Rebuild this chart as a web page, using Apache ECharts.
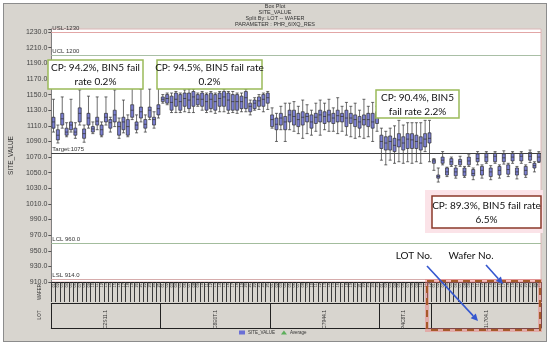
<!DOCTYPE html>
<html><head><meta charset="utf-8">
<script src="https://cdn.jsdelivr.net/npm/echarts@6.0.0/dist/echarts.min.js"></script>
<style>
html,body{margin:0;padding:0;background:#fff;}
#frame{position:absolute;left:3px;top:3px;width:542px;height:337px;background:#d8d5cf;border:1px solid #8c8c8c;}
#chart{position:absolute;left:0;top:0;width:550px;height:348px;}
</style></head><body>
<div id="frame"></div><div id="chart"></div>
<script>
// ---- data ----
const lotNames = ['C2S11.1', 'C8E0T.1', 'C7944.1', 'P4C8T.1', '31L704.1'];
const waferNos = ['01','02','03','04','05','06','07','08','09','10','11','12','13','14','15','16','17','18','19','20','21','22','23','24','25'];
const lotWaferCounts = [25, 25, 25, 12, 25];
const yTicks = [910, 930, 950, 970, 990, 1010, 1030, 1050, 1070, 1090, 1110, 1130, 1150, 1170, 1190, 1210, 1230];
// [min, Q1, median, Q3, max]
const lot1 = [
[1102,1107,1115,1121,1144],[1088,1092,1098,1105,1111],[1107,1111,1119,1126,1147],[1096,1098,1102,1107,1114],
[1102,1105,1111,1115,1144],[1094,1098,1102,1107,1114],[1111,1115,1126,1133,1156],[1089,1094,1100,1106,1111],
[1107,1111,1120,1126,1148],[1100,1102,1106,1109,1115],[1105,1111,1116,1121,1147],[1096,1098,1105,1111,1115],
[1111,1115,1121,1126,1147],[1102,1107,1114,1118,1121],[1109,1115,1124,1130,1156],[1094,1098,1109,1115,1120],
[1101,1105,1115,1121,1143],[1096,1098,1109,1118,1124],[1118,1121,1130,1137,1158],[1101,1105,1111,1115,1124],
[1115,1120,1128,1134,1157],[1102,1107,1112,1118,1124],[1118,1121,1130,1134,1157],[1107,1111,1118,1121,1128],
[1120,1124,1132,1137,1160]];
const lot2 = [
[1139,1141,1144,1147,1150],[1137,1139,1145,1150,1152],[1127,1130,1140,1148,1152],[1127,1135,1144,1152,1154],
[1127,1130,1141,1150,1152],[1128,1135,1145,1152,1156],[1127,1132,1143,1152,1157],[1127,1135,1147,1154,1157],
[1135,1137,1144,1150,1152],[1130,1135,1144,1152,1154],[1127,1130,1141,1150,1152],[1128,1132,1144,1152,1154],
[1126,1130,1141,1150,1152],[1128,1135,1145,1152,1154],[1128,1135,1147,1154,1157],[1126,1130,1143,1152,1154],
[1127,1130,1141,1150,1154],[1126,1130,1141,1150,1152],[1128,1132,1141,1148,1152],[1128,1132,1146,1154,1157],
[1124,1128,1135,1139,1143],[1130,1132,1139,1143,1146],[1131,1135,1142,1147,1150],[1128,1135,1144,1150,1152],
[1131,1139,1146,1152,1154]];
const lot3 = [
[1107,1109,1118,1124,1133],[1090,1105,1112,1120,1126],[1105,1111,1120,1126,1135],[1090,1105,1115,1122,1139],
[1105,1115,1124,1130,1139],[1103,1111,1122,1130,1141],[1100,1109,1118,1126,1135],[1094,1111,1121,1128,1143],
[1100,1115,1122,1126,1137],[1098,1107,1115,1124,1130],[1103,1113,1121,1126,1139],[1098,1115,1124,1130,1143],
[1105,1113,1122,1128,1139],[1103,1115,1124,1130,1144],[1103,1113,1120,1126,1133],[1100,1115,1123,1130,1146],
[1103,1115,1122,1126,1135],[1098,1109,1120,1130,1140],[1096,1113,1120,1126,1135],[1094,1109,1118,1124,1139],
[1096,1107,1115,1122,1130],[1094,1111,1118,1124,1144],[1096,1109,1118,1126,1135],[1090,1107,1115,1126,1140],
[1103,1113,1122,1128,1135]];
const lot4 = [
[1066,1081,1090,1098,1107],[1060,1079,1088,1096,1103],[1066,1079,1090,1097,1107],[1062,1077,1085,1094,1110],
[1064,1083,1092,1100,1117],[1062,1079,1088,1096,1111],[1064,1081,1093,1100,1114],[1062,1081,1092,1100,1114],
[1064,1081,1090,1098,1114],[1062,1079,1088,1096,1114],[1077,1083,1093,1100,1117],[1064,1088,1094,1101,1117]];
const lot5 = [
[1053,1062,1065,1067,1068],[1038,1043,1045,1047,1056],[1060,1062,1066,1070,1077],[1045,1047,1051,1056,1057],
[1058,1060,1064,1068,1070],[1043,1046,1051,1056,1059],[1058,1060,1064,1067,1071],[1044,1046,1051,1056,1058],
[1058,1060,1065,1070,1073],[1041,1046,1049,1054,1056],[1060,1064,1068,1074,1077],[1043,1047,1053,1058,1060],
[1062,1064,1070,1075,1077],[1041,1045,1051,1056,1059],[1062,1064,1071,1075,1077],[1043,1047,1053,1058,1060],
[1061,1064,1069,1074,1078],[1045,1048,1054,1060,1062],[1062,1065,1070,1075,1077],[1042,1047,1051,1056,1058],
[1062,1065,1071,1075,1077],[1044,1047,1053,1058,1060],[1063,1066,1071,1076,1079],[1051,1056,1059,1062,1064],
[1063,1064,1070,1075,1077]];
const limitValues = [1230, 1200, 1075, 960, 914];
const limitLabels = ['USL-1230', 'UCL 1200', 'Target:1075', 'LCL 960.0', 'LSL 914.0'];
const limitColors = ['#e2a6a6', '#a9bfa6', '#404040', '#a3bd9d', '#d6acac'];

// ---- build ----
const categories = [];
const lotStart = [];
const lotCenter = [];
lotNames.forEach((ln, li) => {
  lotStart.push(categories.length);
  lotCenter.push(categories.length + Math.floor((lotWaferCounts[li] - 1) / 2));
  for (let i = 0; i < lotWaferCounts[li]; i++) categories.push(ln + '|' + waferNos[i]);
});
const boxData = [].concat(lot1, lot2, lot3, lot4, lot5);

const FONT = 'Lato, "Open Sans", sans-serif';
function arrow(x1, y1, x2, y2, color) {
  const a = Math.atan2(y2 - y1, x2 - x1), L = 7, W = 3.5;
  const bx = x2 - L * Math.cos(a), by = y2 - L * Math.sin(a);
  return [
    {type: 'line', shape: {x1, y1, x2: bx, y2: by}, style: {stroke: color, lineWidth: 1.6}, z: 100},
    {type: 'polygon', shape: {points: [[x2, y2], [bx + W * Math.sin(a), by - W * Math.cos(a)], [bx - W * Math.sin(a), by + W * Math.cos(a)]]}, style: {fill: color}, z: 100}
  ];
}
function note(x, y, w, h, txt, stroke) {
  return [
    {type: 'rect', shape: {x, y, width: w, height: h}, style: {fill: '#fff', stroke, lineWidth: 1.5}, z: 100},
    {type: 'text', x: x + w / 2, y: y + h / 2 + 0.5, z: 101, style: {text: txt, textAlign: 'center', textVerticalAlign: 'middle', font: '10px ' + FONT, fill: '#111', lineHeight: 14}}
  ];
}
const graphics = [].concat(
  note(48, 60, 95, 29, 'CP: 94.2%, BIN5 fail\nrate 0.2%', '#9bbb59'),
  note(157, 60, 105, 29, 'CP: 94.5%, BIN5 fail rate\n0.2%', '#9bbb59'),
  note(376, 90, 83, 28, 'CP: 90.4%, BIN5\nfail rate 2.2%', '#9bbb59'),
  [{type: 'rect', shape: {x: 425, y: 190, width: 118, height: 43}, style: {fill: '#fbe3e8'}, z: 99}],
  note(432, 196, 109, 32, 'CP: 89.3%, BIN5 fail rate\n6.5%', '#8b3a2a'),
  [
    {type: 'rect', shape: {x: 427, y: 281, width: 113, height: 49}, style: {fill: 'none', stroke: 'rgba(240,120,120,0.45)', lineWidth: 4}, z: 99},
    {type: 'rect', shape: {x: 427, y: 281, width: 113, height: 49}, style: {fill: 'none', stroke: '#a65a2a', lineWidth: 2, lineDash: [7, 5]}, z: 100},
    {type: 'text', x: 414, y: 256, z: 101, style: {text: 'LOT No.', textAlign: 'center', textVerticalAlign: 'middle', font: '10px ' + FONT, fill: '#111'}},
    {type: 'text', x: 471, y: 256, z: 101, style: {text: 'Wafer No.', textAlign: 'center', textVerticalAlign: 'middle', font: '10px ' + FONT, fill: '#111'}},
    {type: 'text', x: 40, y: 292, rotation: Math.PI / 2, z: 101, style: {text: 'WAFER', textAlign: 'center', textVerticalAlign: 'middle', font: '4.5px "Liberation Sans"', fill: '#333'}},
    {type: 'text', x: 40, y: 315, rotation: Math.PI / 2, z: 101, style: {text: 'LOT', textAlign: 'center', textVerticalAlign: 'middle', font: '4.5px "Liberation Sans"', fill: '#333'}}
  ],
  arrow(427, 266, 478, 321, '#3557cf'),
  arrow(486, 265, 503, 284, '#3557cf')
);

const chart = echarts.init(document.getElementById('chart'), null, {renderer: 'canvas'});
chart.setOption({
  backgroundColor: 'transparent',
  animation: false,
  title: {
    text: 'Box Plot\nSITE_VALUE\nSplit By: LOT -- WAFER\nPARAMETER : PHR_6IXQ_RES',
    left: 275, top: 3, textAlign: 'center', padding: 0,
    textStyle: {fontSize: 5.5, lineHeight: 6, fontWeight: 'normal', color: '#333', fontFamily: 'Liberation Sans'}
  },
  legend: {
    left: 239, top: 330, padding: 0, itemWidth: 6, itemHeight: 4, itemGap: 6,
    textStyle: {fontSize: 4.5, color: '#333', fontFamily: 'Liberation Sans', padding: [0, 0, 0, -2]},
    data: [{name: 'SITE_VALUE', icon: 'rect', itemStyle: {color: '#6a6fd6', borderWidth: 0}}, {name: 'Average', icon: 'triangle'}]
  },
  grid: {left: 43, right: 9, top: 29, bottom: 66, show: true, backgroundColor: '#fff', borderColor: '#ddb6b6', borderWidth: 1},
  xAxis: [
    {type: 'category', data: categories, position: 'bottom', boundaryGap: true,
     axisLine: {lineStyle: {color: '#222', width: 1}},
     axisTick: {show: true, interval: 0, length: 20, lineStyle: {color: '#3a3a3a', width: 1}},
     axisLabel: {interval: 0, rotate: 90, fontSize: 4, margin: 1, color: '#333', fontFamily: 'Liberation Sans', hideOverlap: false,
       formatter: v => v.split('|')[1]}},
    {type: 'category', data: categories, position: 'bottom', offset: 21, boundaryGap: true,
     axisLine: {lineStyle: {color: '#222', width: 1}},
     axisTick: {show: true, interval: (i) => lotStart.indexOf(i) >= 0, length: 25, lineStyle: {color: '#222', width: 1}},
     axisLabel: {interval: (i) => lotCenter.indexOf(i) >= 0, rotate: 90, fontSize: 5, margin: 7, color: '#333', fontFamily: 'Liberation Sans', hideOverlap: false,
       formatter: v => v.split('|')[0]}},
    {type: 'category', data: categories, position: 'bottom', offset: 46, boundaryGap: true,
     axisLine: {lineStyle: {color: '#222', width: 1}}, axisTick: {show: false}, axisLabel: {show: false}}
  ],
  yAxis: {
    type: 'value', min: 910, max: 1234, interval: 20,
    name: 'SITE_VALUE', nameLocation: 'middle', nameGap: 32,
    nameTextStyle: {fontSize: 6.5, color: '#333', fontFamily: 'Liberation Sans'},
    axisLine: {show: true, lineStyle: {color: '#808080'}},
    axisTick: {show: true, length: 3, lineStyle: {color: '#555'}},
    splitLine: {show: false},
    axisLabel: {fontSize: 7, color: '#444', margin: 4, fontFamily: 'Liberation Sans',
      formatter: v => yTicks.indexOf(v) >= 0 ? v.toFixed(1) : ''}
  },
  series: [
    {name: 'SITE_VALUE', type: 'boxplot', data: boxData, boxWidth: [3, 3],
     itemStyle: {color: '#7b7fd3', borderColor: '#2e2e2e', borderWidth: 0.7},
     emphasis: {disabled: true},
     markLine: {
       silent: true, symbol: ['none', 'none'], animation: false,
       label: {position: 'insideStartTop', fontSize: 6, color: '#333', fontFamily: 'Liberation Sans', distance: [1, 1]},
       data: limitValues.map((v, i) => ({yAxis: v, lineStyle: {color: limitColors[i], width: 1, type: 'solid'}, label: {formatter: limitLabels[i]}}))
     }},
    {name: 'Average', type: 'scatter', data: [], symbol: 'triangle', itemStyle: {color: '#3da53d'}}
  ],
  graphic: graphics
});
</script>
</body></html>
